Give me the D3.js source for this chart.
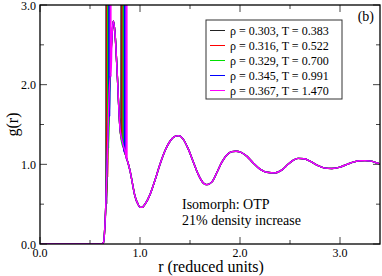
<!DOCTYPE html>
<html>
<head>
<meta charset="utf-8">
<script src="https://cdnjs.cloudflare.com/ajax/libs/d3/7.8.5/d3.min.js"></script>
<style>
  body { margin: 0; background: #fff; }
  svg { display: block; }
</style>
</head>
<body>
<div id="chart"></div>
<script>
// state points (legend) and line colours
const labels = [
  "ρ = 0.303, T = 0.383",
  "ρ = 0.316, T = 0.522",
  "ρ = 0.329, T = 0.700",
  "ρ = 0.345, T = 0.991",
  "ρ = 0.367, T = 1.470"
];
const colors = ["#222222", "#ff0000", "#00e000", "#0000ff", "#ff00ff"];

// intermolecular part of g(r), nearly the same for all five state points
const baseR = [0, 0.60, 0.62, 0.635, 0.65, 0.66, 0.68, 0.70, 0.72, 0.733, 0.75, 0.77, 0.80, 0.83, 0.86, 0.88,
  0.90, 0.92, 0.95, 0.98, 1.00, 1.02, 1.05, 1.10, 1.15, 1.20, 1.25, 1.30, 1.35, 1.387, 1.43, 1.48, 1.53,
  1.58, 1.63, 1.667, 1.72, 1.77, 1.82, 1.87, 1.92, 1.96, 2.01, 2.07, 2.13, 2.20, 2.27, 2.35, 2.42, 2.48,
  2.53, 2.58, 2.64, 2.70, 2.77, 2.84, 2.92, 3.00, 3.07, 3.14, 3.20, 3.25, 3.31, 3.36, 3.41];
const baseG = [0, 0, 0.0, 0.02, 0.25, 0.55, 1.4, 2.1, 2.6, 2.8, 2.65, 2.2, 1.45, 1.25, 1.1, 1.02,
  0.92, 0.79, 0.6, 0.5, 0.46, 0.46, 0.5, 0.62, 0.8, 1.0, 1.17, 1.29, 1.35, 1.36, 1.32, 1.2, 1.04,
  0.88, 0.77, 0.745, 0.78, 0.9, 1.03, 1.12, 1.16, 1.165, 1.15, 1.1, 1.02, 0.94, 0.9, 0.893, 0.93, 1.0,
  1.05, 1.075, 1.07, 1.04, 0.99, 0.955, 0.948, 0.965, 1.0, 1.03, 1.045, 1.047, 1.04, 1.02, 1.0];

// intramolecular (bond) peaks per state point: positions and g at their feet
const bond1 = [0.663, 0.672, 0.681, 0.692, 0.706];
const foot1 = [0.5, 0.85, 1.2, 1.6, 2.1];
const bond2 = [0.813, 0.824, 0.835, 0.848, 0.866];
const foot2 = [1.36, 1.29, 1.22, 1.15, 1.07];
const spikeTop = 8;

const xTicks = [0, 1, 2, 3];
const yTicks = [0, 1, 2, 3];
const xMinor = [0.5, 1.5, 2.5];
const yMinor = [0.5, 1.5, 2.5];

const width = 382, height = 276;
const margin = { left: 40, right: 2, top: 5, bottom: 32 };
const serif = "'Liberation Serif', 'Times New Roman', serif";

const svg = d3.select("#chart").append("svg")
  .attr("width", width)
  .attr("height", height)
  .style("font-family", serif);

const x = d3.scaleLinear().domain([0, 3.4]).range([margin.left, width - margin.right]);
const y = d3.scaleLinear().domain([0, 3]).range([height - margin.bottom, margin.top]);

svg.append("clipPath").attr("id", "clip")
  .append("rect")
  .attr("x", x(0)).attr("y", y(3))
  .attr("width", x(3.4) - x(0)).attr("height", y(0) - y(3));

// build each curve: base points plus the two narrow bond spikes
function curve(i) {
  const w = 0.004;
  let pts = baseR.map((r, k) => [r, baseG[k]])
    .filter(p => Math.abs(p[0] - bond1[i]) > 1.5 * w && Math.abs(p[0] - bond2[i]) > 1.5 * w);
  pts.push([bond1[i] - w, foot1[i]], [bond1[i], spikeTop], [bond1[i] + w, foot1[i]]);
  pts.push([bond2[i] - w, foot2[i]], [bond2[i], spikeTop], [bond2[i] + w, foot2[i]]);
  pts.sort((a, b) => a[0] - b[0]);
  return pts;
}

const line = d3.line()
  .x(d => x(d[0]))
  .y(d => y(d[1]))
  .curve(d3.curveMonotoneX);

const lines = svg.append("g").attr("clip-path", "url(#clip)");
labels.forEach((lab, i) => {
  lines.append("path")
    .datum(curve(i))
    .attr("fill", "none")
    .attr("stroke", colors[i])
    .attr("stroke-width", 1.4)
    .attr("d", line);
});

// axes with inward ticks on all four sides
const tickColor = "#444";
const axes = [
  { gen: d3.axisBottom(x), tr: `translate(0,${y(0)})`, dir: -1, horiz: true },
  { gen: d3.axisTop(x), tr: `translate(0,${y(3)})`, dir: 1, horiz: true },
  { gen: d3.axisLeft(y), tr: `translate(${x(0)},0)`, dir: 1, horiz: false },
  { gen: d3.axisRight(y), tr: `translate(${x(3.4)},0)`, dir: -1, horiz: false }
];
axes.forEach(a => {
  const major = a.horiz ? xTicks : yTicks;
  const minor = a.horiz ? xMinor : yMinor;
  const g = svg.append("g").attr("transform", a.tr);
  g.call(a.gen.tickValues(major).tickSize(0).tickFormat(""));
  g.select(".domain").remove();
  major.forEach(v => {
    const p = a.horiz ? x(v) : y(v);
    g.append("line")
      .attr("x1", a.horiz ? p : 0).attr("x2", a.horiz ? p : 7 * a.dir)
      .attr("y1", a.horiz ? 0 : p).attr("y2", a.horiz ? 7 * a.dir : p)
      .attr("stroke", tickColor);
  });
  minor.forEach(v => {
    const p = a.horiz ? x(v) : y(v);
    g.append("line")
      .attr("x1", a.horiz ? p : 0).attr("x2", a.horiz ? p : 4 * a.dir)
      .attr("y1", a.horiz ? 0 : p).attr("y2", a.horiz ? 4 * a.dir : p)
      .attr("stroke", tickColor);
  });
});

// frame
svg.append("rect")
  .attr("x", x(0)).attr("y", y(3))
  .attr("width", x(3.4) - x(0)).attr("height", y(0) - y(3))
  .attr("fill", "none")
  .attr("stroke", "#000")
  .attr("stroke-width", 1.3);

// tick labels
svg.selectAll(".xl").data(xTicks).enter().append("text")
  .attr("x", d => x(d)).attr("y", y(0) + 13)
  .attr("text-anchor", "middle")
  .attr("font-size", 12)
  .style("font-family", serif)
  .text(d => d.toFixed(1));
svg.selectAll(".yl").data(yTicks).enter().append("text")
  .attr("x", x(0) - 4).attr("y", d => y(d) + 4.5)
  .attr("text-anchor", "end")
  .attr("font-size", 12)
  .style("font-family", serif)
  .text(d => d.toFixed(1));

// axis titles
svg.append("text")
  .attr("x", 211).attr("y", 272)
  .attr("text-anchor", "middle")
  .attr("font-size", 16)
  .style("font-family", serif)
  .text("r (reduced units)");
svg.append("text")
  .attr("transform", `translate(18,${(y(0) + y(3)) / 2}) rotate(-90)`)
  .attr("text-anchor", "middle")
  .attr("font-size", 16)
  .style("font-family", serif)
  .text("g(r)");

// panel tag
svg.append("text")
  .attr("x", 374).attr("y", 21)
  .attr("text-anchor", "end")
  .attr("font-size", 14)
  .style("font-family", serif)
  .text("(b)");

// legend
const legend = svg.append("g");
legend.append("rect")
  .attr("x", 206).attr("y", 20)
  .attr("width", 136).attr("height", 79)
  .attr("fill", "#fff")
  .attr("stroke", "#333")
  .attr("stroke-width", 1);
labels.forEach((lab, i) => {
  const ly = 30.5 + i * 15;
  legend.append("line")
    .attr("x1", 210).attr("x2", 225)
    .attr("y1", ly).attr("y2", ly)
    .attr("stroke", colors[i]);
  legend.append("text")
    .attr("x", 230).attr("y", ly + 4)
    .attr("font-size", 12)
    .style("font-family", serif)
    .text(lab);
});

// annotation
svg.append("text").attr("x", 182).attr("y", 209).attr("font-size", 14)
  .style("font-family", serif).text("Isomorph: OTP");
svg.append("text").attr("x", 182).attr("y", 225).attr("font-size", 14)
  .style("font-family", serif).text("21% density increase");
</script>
</body>
</html>
